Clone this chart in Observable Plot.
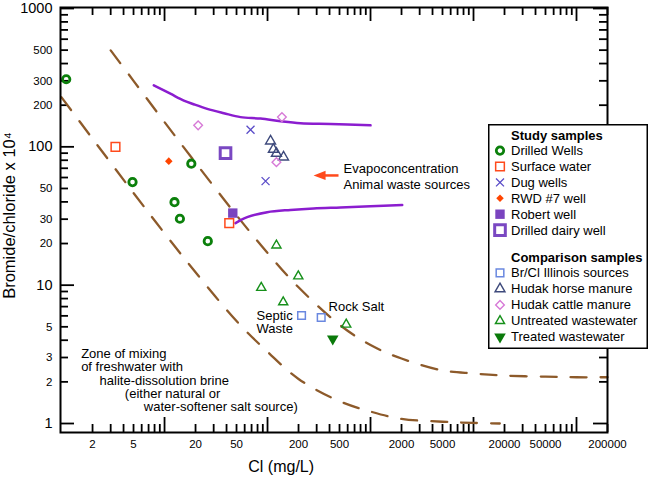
<!DOCTYPE html>
<html>
<head>
<meta charset="utf-8">
<script src="https://cdn.jsdelivr.net/npm/d3@7"></script>
<script src="https://cdn.jsdelivr.net/npm/@observablehq/plot@0.6"></script>
<style>
  html, body { margin: 0; padding: 0; background: #fff; }
</style>
</head>
<body>
<div id="chart"></div>
<script>
// ---------------- DATA ----------------
const drilledWellsCl    = [1.11, 4.89, 18.2, 12.5, 14.1, 26.3];
const drilledWellsRatio = [308, 55.6, 75.5, 39.8, 30.2, 20.8];
const surfaceWaterCl    = [3.34, 42.5];
const surfaceWaterRatio = [100, 28.1];
const dugWellsCl        = [68.4, 95.7];
const dugWellsRatio     = [133, 56.5];
const rwdCl             = [11.0];
const rwdRatio          = [78.8];
const robertCl          = [46.0];
const robertRatio       = [33.2];
const dairyCl           = [39.1];
const dairyRatio        = [90];
const illinoisCl        = [214, 332];
const illinoisRatio     = [6.04, 5.84];
const horseCl           = [107, 114, 122, 143];
const horseRatio        = [110, 95.8, 89.6, 84.3];
const cattleCl          = [21.2, 138, 122];
const cattleRatio       = [143, 164, 77.5];
const untreatedCl       = [122, 199, 86.9, 142, 581];
const untreatedRatio    = [19.4, 11.6, 9.58, 7.54, 5.2];
const treatedCl         = [430];
const treatedRatio      = [4.1];

const mixLowCl    = [1, 2, 5, 10, 20, 50, 100, 200, 500, 1000, 2000, 5000, 10000, 18000];
const mixLowRatio = [228, 114.5, 46.4, 23.7, 12.4, 5.5, 3.3, 2.1, 1.45, 1.22, 1.08, 1.03, 1.01, 1.0];
const mixHighCl    = [3, 5, 10, 20, 50, 100, 200, 500, 1000, 2000, 5000, 10000, 20000, 50000, 100000, 200000];
const mixHighRatio = [498, 300, 151, 76.7, 32, 17.1, 9.65, 5.18, 3.69, 2.95, 2.42, 2.3, 2.22, 2.18, 2.16, 2.16];

const evapUpperCl    = [7.87, 11.4, 15.4, 19.2, 26.0, 37.7, 54.7, 85.5, 134, 209, 409, 1000];
const evapUpperRatio = [278, 242, 216, 203, 188, 175, 164, 160, 153, 148, 146, 143];
const evapLowerCl    = [48.9, 63.5, 99.3, 167, 280, 511, 1000, 2032];
const evapLowerRatio = [28.1, 31.0, 33.7, 35.0, 35.9, 36.5, 37.2, 38.0];

const noteText  = ["Evapoconcentration\nAnimal waste sources", "Septic\nWaste", "Rock Salt",
                   "Zone of mixing", "of freshwater with", "halite-dissolution brine",
                   "(either natural or", "water-softener salt source)"];
const noteCl    = [547, 78.2, 391, 1.55, 1.55, 2.34, 4.12, 6.30];
const noteRatio = [62.1, 5.42, 6.93, 3.21, 2.55, 2.05, 1.65, 1.33];
const arrowFromCl = 489, arrowBaseCl = 357, arrowTipCl = 280, arrowRatio = 62.1;

const xTickLabels = [2, 5, 20, 50, 200, 500, 2000, 5000, 20000, 50000, 200000];
const yTickLabels = [1, 2, 3, 5, 10, 20, 30, 50, 100, 200, 300, 500, 1000];

const studyTitle = "Study samples";
const studyNames = ["Drilled Wells", "Surface water", "Dug wells", "RWD #7 well", "Robert well", "Drilled dairy well"];
const compTitle  = "Comparison samples";
const compNames  = ["Br/Cl Illinois sources", "Hudak horse manure", "Hudak cattle manure", "Untreated wastewater", "Treated wastewater"];

// ---------------- STYLES ----------------
const triangleDown = {
  draw(ctx, size) {
    const y = Math.sqrt(size / (Math.sqrt(3) * 3));
    const x = Math.sqrt(3) * y;
    ctx.moveTo(0, 2 * y); ctx.lineTo(x, -y); ctx.lineTo(-x, -y); ctx.closePath();
  }
};
const arrowHeadLeft = {
  draw(ctx) { ctx.moveTo(0, 0); ctx.lineTo(12, -4.6); ctx.lineTo(12, 4.6); ctx.closePath(); }
};
const symMap = {circle: d3.symbolCircle, square: d3.symbolSquare, times: d3.symbolTimes,
  diamond2: d3.symbolDiamond2, triangle: d3.symbolTriangle, triangleDown: triangleDown};

const studyStyles = [
  {symbol: "circle", r: 3.7, stroke: "#0b800b", fill: "none", sw: 2.8},
  {symbol: "square", r: 4.9, stroke: "#ff4a1c", fill: "none", sw: 1.5},
  {symbol: "times", r: 3.7, stroke: "#5a4cc8", fill: "none", sw: 1.3},
  {symbol: "diamond2", r: 3.4, stroke: "none", fill: "#ff4500", sw: 0},
  {symbol: "square", r: 5.3, stroke: "none", fill: "#7a44bf", sw: 0},
  {symbol: "square", r: 6.0, stroke: "#7a48c2", fill: "#fff", sw: 3}
];
const compStyles = [
  {symbol: "square", r: 4.3, stroke: "#6a88e0", fill: "none", sw: 1.5},
  {symbol: "triangle", r: 3.7, stroke: "#3e4a7c", fill: "none", sw: 1.4},
  {symbol: "diamond2", r: 3.9, stroke: "#d77ad7", fill: "none", sw: 1.4},
  {symbol: "triangle", r: 3.4, stroke: "#16901a", fill: "none", sw: 1.4},
  {symbol: "triangleDown", r: 4.3, stroke: "none", fill: "#0a7a0a", sw: 0}
];

// ---------------- BUILD ----------------
const table = (cl, ratio) => cl.map((c, i) => ({cl: c, ratio: ratio[i]}));
const studyData = [
  table(drilledWellsCl, drilledWellsRatio), table(surfaceWaterCl, surfaceWaterRatio),
  table(dugWellsCl, dugWellsRatio), table(rwdCl, rwdRatio), table(robertCl, robertRatio),
  table(dairyCl, dairyRatio)
];
const compData = [
  table(illinoisCl, illinoisRatio), table(horseCl, horseRatio), table(cattleCl, cattleRatio),
  table(untreatedCl, untreatedRatio), table(treatedCl, treatedRatio)
];

const W = 650, H = 483, ML = 60, MR = 43, MT = 7, MB = 51;
const FW = W - ML - MR, FH = H - MT - MB;
const xLo = 0.977, xHi = 200000, yLo = 0.861, yHi = 1016.7;

const isDecade = v => /^10*$/.test(String(v));
const xMajor = [10, 100, 1000, 10000, 100000];
const xMinor = [2, 3, 4, 5, 6, 7, 8, 9, 20, 30, 40, 50, 60, 70, 80, 90, 200, 300, 400, 500, 600, 700, 800, 900,
  2000, 3000, 4000, 5000, 6000, 7000, 8000, 9000, 20000, 30000, 40000, 50000, 60000, 70000, 80000, 90000, 200000];
const yMajor = [1, 10, 100, 1000];
const yMinor = [2, 3, 4, 5, 6, 7, 8, 9, 20, 30, 40, 50, 60, 70, 80, 90, 200, 300, 400, 500, 600, 700, 800, 900];

const tk = {stroke: "#000", strokeWidth: 1.8};
const dotMark = (data, s) => Plot.dot(data, {
  x: "cl", y: "ratio", symbol: symMap[s.symbol], r: s.r,
  stroke: s.stroke, fill: s.fill, strokeWidth: s.sw
});
const notes = noteText.map((t, i) => ({text: t, cl: noteCl[i], ratio: noteRatio[i]}));

const chart = Plot.plot({
  width: W, height: H,
  marginLeft: ML, marginRight: MR, marginTop: MT, marginBottom: MB,
  x: {type: "log", domain: [xLo, xHi], axis: null},
  y: {type: "log", domain: [yLo, yHi], axis: null},
  marks: [
    // inward tick marks (bottom, top, left, right)
    Plot.tickX(xMinor, {x: d => d, insetTop: FH - 8, ...tk}),
    Plot.tickX(xMajor, {x: d => d, insetTop: FH - 15, ...tk}),
    Plot.tickX(xMinor, {x: d => d, insetBottom: FH - 8, ...tk}),
    Plot.tickX(xMajor, {x: d => d, insetBottom: FH - 14, ...tk}),
    Plot.tickY(yMinor, {y: d => d, insetRight: FW - 8, ...tk}),
    Plot.tickY(yMajor, {y: d => d, insetRight: FW - 14, ...tk}),
    Plot.tickY(yMinor, {y: d => d, insetLeft: FW - 8, ...tk}),
    Plot.tickY(yMajor, {y: d => d, insetLeft: FW - 14, ...tk}),
    // tick labels
    Plot.text(xTickLabels, {x: d => d, frameAnchor: "bottom", textAnchor: "middle", dy: 15, fontSize: 11.5, fill: "#000", text: d => String(d)}),
    Plot.text(yTickLabels.filter(isDecade), {y: d => d, frameAnchor: "left", textAnchor: "end", dx: -8, fontSize: 14.5, fill: "#000", text: d => String(d)}),
    Plot.text(yTickLabels.filter(v => !isDecade(v)), {y: d => d, frameAnchor: "left", textAnchor: "end", dx: -8, fontSize: 11.5, fill: "#000", text: d => String(d)}),
    // axis titles
    Plot.text(["Bromide/chloride x 10\u2074"], {frameAnchor: "left", textAnchor: "middle", rotate: -90, dx: -51, dy: -4.5, fontSize: 16.5, fill: "#000"}),
    Plot.text(["Cl (mg/L)"], {frameAnchor: "bottom-left", textAnchor: "middle", dx: 220.7, dy: 39, fontSize: 16, fill: "#000"}),
    // curves
    Plot.line(table(mixLowCl, mixLowRatio), {x: "cl", y: "ratio", stroke: "#8d5a2a", strokeWidth: 2.3, strokeDasharray: "16,14", curve: "catmull-rom"}),
    Plot.line(table(mixHighCl, mixHighRatio), {x: "cl", y: "ratio", stroke: "#8d5a2a", strokeWidth: 2.3, strokeDasharray: "16,14", curve: "catmull-rom"}),
    Plot.line(table(evapUpperCl, evapUpperRatio), {x: "cl", y: "ratio", stroke: "#8b1dcf", strokeWidth: 2.5, curve: "catmull-rom"}),
    Plot.line(table(evapLowerCl, evapLowerRatio), {x: "cl", y: "ratio", stroke: "#8b1dcf", strokeWidth: 2.5, curve: "catmull-rom"}),
    // arrow
    Plot.link([0], {x1: arrowFromCl, x2: arrowBaseCl, y1: arrowRatio, y2: arrowRatio, stroke: "#ff4a1c", strokeWidth: 2.5}),
    Plot.dot([0], {x: arrowTipCl, y: arrowRatio, symbol: arrowHeadLeft, fill: "#ff4a1c", stroke: "none"}),
    // annotations
    Plot.text(notes.slice(0, 1), {x: "cl", y: "ratio", text: "text", textAnchor: "start", fontSize: 13, lineHeight: 1.23, fill: "#000"}),
    Plot.text(notes.slice(1), {x: "cl", y: "ratio", text: "text", textAnchor: "start", fontSize: 13, lineHeight: 1.0, fill: "#000"}),
    // points
    ...studyData.map((d, i) => dotMark(d, studyStyles[i])),
    ...compData.map((d, i) => dotMark(d, compStyles[i])),
    // frame
    Plot.frame({stroke: "#000", strokeWidth: 2})
  ]
});
chart.style.fontFamily = '"Liberation Sans", Arial, Helvetica, sans-serif';
document.getElementById("chart").appendChild(chart);

// ---------------- LEGEND ----------------
const svg = d3.select(chart);
const lg = svg.append("g").attr("class", "legend").attr("text-anchor", "start");
const LX = 488, LY = 124, LW = 160, LH = 225;
lg.append("rect").attr("x", LX + 0.75).attr("y", LY + 0.75).attr("width", LW - 1.5).attr("height", LH - 1.5)
  .attr("fill", "#fff").attr("stroke", "#000").attr("stroke-width", 1.5);
const symX = LX + 12, txtX = LX + 23;
function legendGroup(title, names, styles, y0, step) {
  lg.append("text").attr("x", txtX).attr("y", y0).attr("dy", "0.35em").attr("text-anchor", "start")
    .attr("font-size", 13).attr("font-weight", "bold").attr("fill", "#000").text(title);
  names.forEach((n, i) => {
    const y = y0 + 15.6 + i * step;
    const s = styles[i];
    lg.append("path").attr("d", d3.symbol(symMap[s.symbol], Math.PI * s.r * s.r)())
      .attr("transform", `translate(${symX},${y})`)
      .attr("fill", s.fill).attr("stroke", s.stroke).attr("stroke-width", s.sw);
    lg.append("text").attr("x", txtX).attr("y", y).attr("dy", "0.35em").attr("text-anchor", "start")
      .attr("font-size", 13).attr("fill", "#000").text(n);
  });
}
legendGroup(studyTitle, studyNames, studyStyles, LY + 11, 15.9);
legendGroup(compTitle, compNames, compStyles, LY + 133.3, 16);
</script>
</body>
</html>
